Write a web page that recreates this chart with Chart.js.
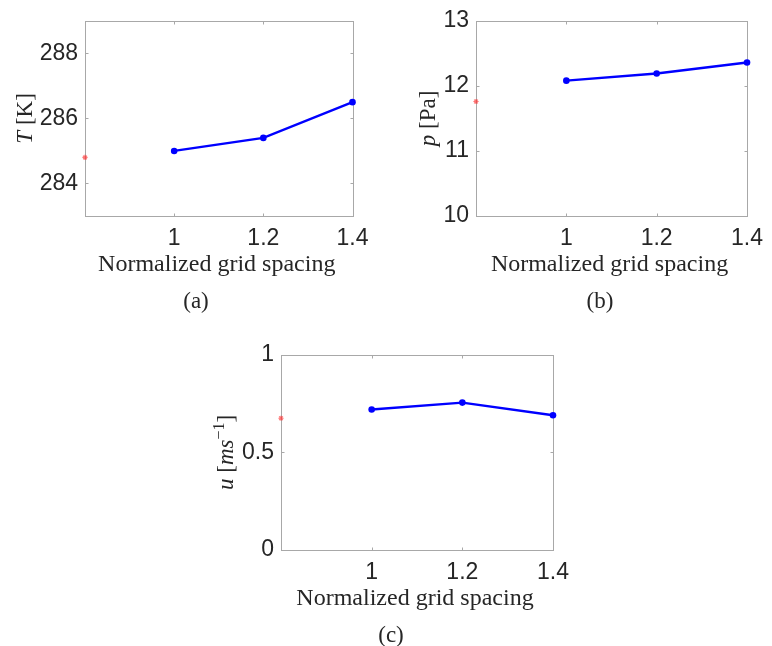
<!DOCTYPE html>
<html>
<head>
<meta charset="utf-8">
<script src="https://cdn.jsdelivr.net/npm/chart.js@4.4.1/dist/chart.umd.min.js"></script>
<style>
  body { margin: 0; background: #fff; }
  #fig { position: relative; width: 772px; height: 646px; overflow: hidden; }
  #fig canvas { position: absolute; }
</style>
</head>
<body>
<div id="fig">
  <canvas id="chartT" style="left:0px;top:0px" width="385" height="320"></canvas>
  <canvas id="chartP" style="left:390px;top:0px" width="382" height="320"></canvas>
  <canvas id="chartU" style="left:195px;top:334px" width="385" height="312"></canvas>
</div>
<script>
// grid spacing values and the fine-grid reference location
const spacing = [1, 1.2, 1.4];
const refSpacing = [0.8];
const xTicks = [1, 1.2, 1.4];

// temperature [K]
const tempK = [285.0, 285.4, 286.5];
const tempRef = [284.8];
const tempTicks = [284, 286, 288];

// pressure [Pa]
const pressPa = [12.08, 12.19, 12.36];
const pressRef = [11.76];
const pressTicks = [10, 11, 12, 13];

// velocity [m/s]
const velMs = [0.72, 0.755, 0.69];
const velRef = [0.675];
const velTicks = [0, 0.5, 1];

const SERIF = '"Liberation Serif", "Times New Roman", serif';
const SANS = '"Liberation Sans", Arial, Helvetica, sans-serif';
const TEXT = '#262626';

// draws a run of text pieces (italic / superscript) centred on x=0 along the current baseline
function drawParts(ctx, parts, size) {
  const fontOf = p => (p.it ? 'italic ' : '') + (p.sup ? Math.round(size * 0.68) : size) + 'px ' + SERIF;
  let total = 0;
  parts.forEach(p => { ctx.font = fontOf(p); p.w = ctx.measureText(p.t).width; total += p.w; });
  let cx = -total / 2;
  parts.forEach(p => {
    ctx.font = fontOf(p);
    ctx.fillText(p.t, cx, p.sup ? -size * 0.4 : 0);
    cx += p.w;
  });
}

// box, inward ticks on every side, axis titles and sub-caption
const matlabAxes = {
  id: 'matlabAxes',
  beforeDatasetsDraw(chart, args, opts) {
    const { ctx, chartArea: a, scales: { x, y } } = chart;
    ctx.save();
    ctx.strokeStyle = '#a8a8a8';
    ctx.lineWidth = 1;
    const l = Math.round(a.left) + 0.5, r = Math.round(a.right) + 0.5;
    const t = Math.round(a.top) + 0.5, b = Math.round(a.bottom) + 0.5;
    ctx.strokeRect(l, t, r - l, b - t);
    ctx.beginPath();
    x.ticks.forEach(tk => {
      const px = Math.round(x.getPixelForValue(tk.value)) + 0.5;
      ctx.moveTo(px, b); ctx.lineTo(px, b - 3);
      ctx.moveTo(px, t); ctx.lineTo(px, t + 3);
    });
    y.ticks.forEach(tk => {
      const py = Math.round(y.getPixelForValue(tk.value)) + 0.5;
      ctx.moveTo(l, py); ctx.lineTo(l + 3, py);
      ctx.moveTo(r, py); ctx.lineTo(r - 3, py);
    });
    ctx.stroke();
    ctx.restore();
  },
  afterDraw(chart, args, opts) {
    const { ctx, chartArea: a } = chart;
    ctx.save();
    ctx.fillStyle = TEXT;
    ctx.textAlign = 'left';
    ctx.textBaseline = 'alphabetic';

    // y title, rotated
    ctx.save();
    ctx.translate(opts.yTitleX, (a.top + a.bottom) / 2);
    ctx.rotate(-Math.PI / 2);
    drawParts(ctx, opts.yTitle, 23);
    ctx.restore();

    // x title
    ctx.save();
    ctx.translate((a.left + a.right) / 2 - 2, a.bottom + 55);
    drawParts(ctx, [{ t: 'Normalized grid spacing' }], 24);
    ctx.restore();

    // caption
    ctx.save();
    ctx.translate(opts.captionX, a.bottom + 92);
    drawParts(ctx, [{ t: opts.caption }], 23);
    ctx.restore();

    ctx.restore();
  }
};

function fmt(v) {
  return String(Math.round(v * 100) / 100);
}

function makePanel(id, cfg) {
  const canvas = document.getElementById(id);
  const H = canvas.height;
  const W = canvas.width;
  return new Chart(canvas.getContext('2d'), {
    type: 'line',
    data: {
      datasets: [
        {
          data: spacing.map((s, i) => ({ x: s, y: cfg.values[i] })),
          borderColor: '#0000ff',
          backgroundColor: '#0000ff',
          borderWidth: 2.4,
          pointRadius: 3.3,
          pointBorderWidth: 0,
          tension: 0,
          clip: false
        },
        {
          data: refSpacing.map((s, i) => ({ x: s, y: cfg.ref[i] })),
          showLine: false,
          pointStyle: 'star',
          pointRadius: 2.6,
          borderColor: 'rgba(255, 40, 40, 0.65)',
          backgroundColor: 'rgba(255, 40, 40, 0.65)',
          pointBorderWidth: 1.2,
          clip: false
        }
      ]
    },
    options: {
      responsive: false,
      animation: false,
      layout: { padding: { left: 0, top: cfg.top, right: W - cfg.right, bottom: 0 } },
      scales: {
        x: {
          type: 'linear',
          min: 0.8,
          max: 1.4,
          afterBuildTicks: s => { s.ticks = xTicks.map(v => ({ value: v })); },
          afterFit: s => { s.height = H - cfg.bottom; },
          grid: { display: false, drawTicks: false },
          border: { display: false },
          ticks: {
            color: TEXT,
            padding: 9,
            maxRotation: 0,
            font: { family: SANS, size: 23 },
            callback: v => fmt(v)
          }
        },
        y: {
          type: 'linear',
          min: cfg.min,
          max: cfg.max,
          afterBuildTicks: s => { s.ticks = cfg.ticks.map(v => ({ value: v })); },
          afterFit: s => { s.width = cfg.left; },
          grid: { display: false, drawTicks: false },
          border: { display: false },
          ticks: {
            color: TEXT,
            padding: 7,
            font: { family: SANS, size: 23 },
            callback: v => fmt(v)
          }
        }
      },
      plugins: {
        legend: { display: false },
        tooltip: { enabled: false },
        matlabAxes: {
          yTitle: cfg.yTitle,
          yTitleX: cfg.yTitleX,
          caption: cfg.caption,
          captionX: cfg.captionX
        }
      }
    },
    plugins: [matlabAxes]
  });
}

makePanel('chartT', {
  values: tempK, ref: tempRef, ticks: tempTicks, min: 283, max: 289,
  left: 85, right: 352.5, top: 16, bottom: 216,
  yTitle: [{ t: 'T', it: true }, { t: ' [K]' }], yTitleX: 32,
  caption: '(a)', captionX: 196
});

makePanel('chartP', {
  values: pressPa, ref: pressRef, ticks: pressTicks, min: 10, max: 13,
  left: 86, right: 364, top: 16, bottom: 216,
  yTitle: [{ t: 'p', it: true }, { t: ' [Pa]' }], yTitleX: 45,
  caption: '(b)', captionX: 210
});

makePanel('chartU', {
  values: velMs, ref: velRef, ticks: velTicks, min: 0, max: 1,
  left: 86, right: 358, top: 17, bottom: 216,
  yTitle: [{ t: 'u', it: true }, { t: ' [' }, { t: 'ms', it: true }, { t: '\u22121', sup: true }, { t: ']' }], yTitleX: 38,
  caption: '(c)', captionX: 196
});
</script>
</body>
</html>
